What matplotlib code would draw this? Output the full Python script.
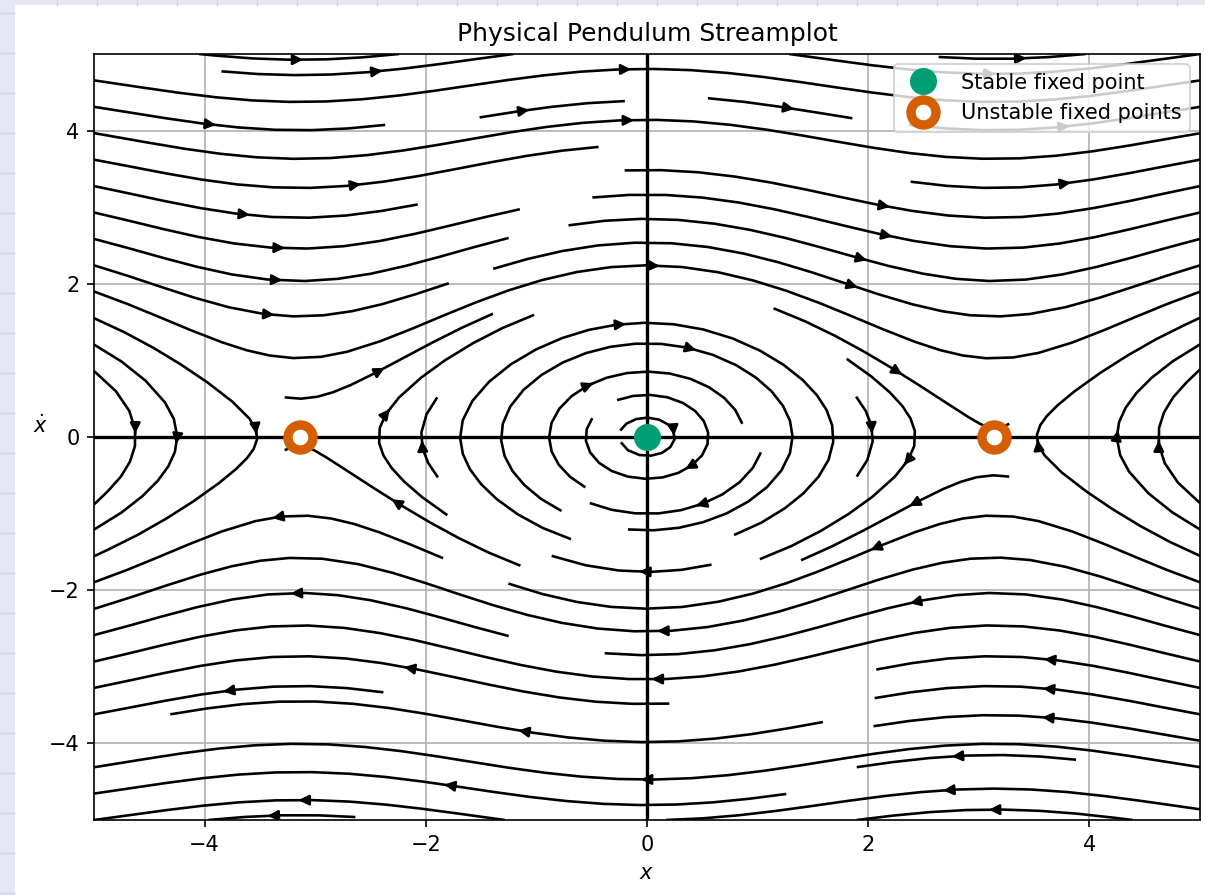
import numpy as np
import matplotlib
matplotlib.use("Agg")
import matplotlib.pyplot as plt
from matplotlib.patches import Rectangle
from matplotlib.lines import Line2D

# phase plane of the physical pendulum: x' = v, v' = -sin(x)
x_range = [-5, 5]
v_range = [-5, 5]
n_grid = 100

stable_x = [0.0]
stable_v = [0.0]
unstable_x = [-np.pi, np.pi]
unstable_v = [0.0, 0.0]

W, H = 1206, 895
DPI = 150
fig = plt.figure(figsize=(W / DPI, H / DPI), dpi=DPI)
fig.patch.set_facecolor("#e6e6f5")
# white page sitting on the lavender notebook background
fig.patches.append(Rectangle((15 / W, 0), 1 - 15 / W, 1 - 5 / H, transform=fig.transFigure,
                             facecolor="white", edgecolor="none", zorder=-2))
for yp in range(13, H, 40):
    fig.lines.append(Line2D([0, 15 / W], [1 - yp / H, 1 - yp / H], transform=fig.transFigure,
                            color="#d2d2ec", lw=0.7, zorder=-1))
for xp in range(57, W, 40):
    fig.lines.append(Line2D([xp / W, xp / W], [1 - 5 / H, 1], transform=fig.transFigure,
                            color="#d2d2ec", lw=0.7, zorder=-1))

ax = fig.add_axes([94 / W, 1 - 820 / H, (1200 - 94) / W, (820 - 54) / H])

x = np.linspace(x_range[0], x_range[1], n_grid)
v = np.linspace(v_range[0], v_range[1], n_grid)
X, V = np.meshgrid(x, v)
dX = V
dV = -np.sin(X)

ax.streamplot(X, V, dX, dV, color="black", linewidth=1.25, density=1)
ax.axhline(0, color="black", lw=1.6)
ax.axvline(0, color="black", lw=1.6)

ax.plot(stable_x, stable_v, "o", color="#009E73", ms=12, ls="none", label="Stable fixed point",
        zorder=5)
ax.plot(unstable_x, unstable_v, "o", mfc="white", mec="#D55E00", mew=4.5, ms=12, ls="none",
        label="Unstable fixed points", zorder=5)

ax.set_xlim(x_range)
ax.set_ylim(v_range)
ax.grid(True)
ax.set_title("Physical Pendulum Streamplot")
ax.set_xlabel("$x$")
ax.set_ylabel(r"$\dot{x}$", rotation=0)
ax.legend(loc="upper right")

fig.savefig("out.png", dpi=DPI, facecolor=fig.get_facecolor())
